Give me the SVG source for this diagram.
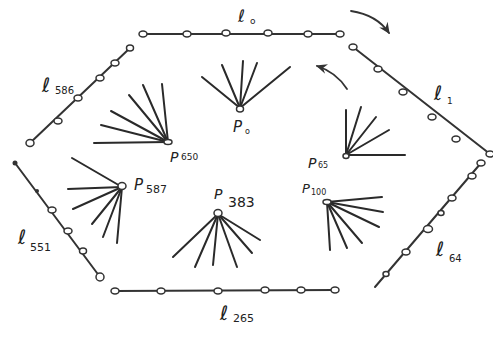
<svg xmlns="http://www.w3.org/2000/svg" width="493" height="338" viewBox="0 0 493 338">
<style>
.seg{stroke:#333;stroke-width:2;fill:none;stroke-linecap:round}
.ray{stroke:#2a2a2a;stroke-width:2;fill:none;stroke-linecap:round}
.pt{fill:#fff;stroke:#333;stroke-width:1.5}
.lbl{font-family:"DejaVu Sans",sans-serif;font-style:italic;fill:#222}
.sub{font-family:"DejaVu Sans",sans-serif;fill:#222}
.arr{stroke:#333;stroke-width:1.8;fill:none;stroke-linecap:round}
</style>
<defs>
<marker id="ah" viewBox="0 0 10 10" refX="8" refY="5" markerWidth="7" markerHeight="7" orient="auto">
<path d="M0,1 L9,5 L0,9 L3,5 Z" fill="#333"/>
</marker>
</defs>
<rect width="493" height="338" fill="#fff"/>

<g id="connectors">
<path class="arr" d="M351,11 Q377,15 389,33" marker-end="url(#ah)"/>
<path class="arr" d="M347,89 Q336,72 317,66" marker-end="url(#ah)"/>
</g>

<g id="l0">
<line class="seg" x1="143" y1="34" x2="340" y2="34"/>
<ellipse class="pt" cx="143" cy="34" rx="4" ry="3"/>
<ellipse class="pt" cx="187" cy="34" rx="4" ry="3"/>
<ellipse class="pt" cx="226" cy="33" rx="4" ry="3"/>
<ellipse class="pt" cx="268" cy="33" rx="4" ry="3"/>
<ellipse class="pt" cx="308" cy="34" rx="4" ry="3"/>
<ellipse class="pt" cx="340" cy="34" rx="4" ry="3"/>
<text class="lbl" x="238" y="22" font-size="17">ℓ</text>
<text class="sub" x="250" y="24" font-size="9">o</text>
</g>

<g id="l1">
<line class="seg" x1="353" y1="47" x2="490" y2="154"/>
<ellipse class="pt" cx="353" cy="47" rx="4" ry="3"/>
<ellipse class="pt" cx="378" cy="69" rx="4" ry="3"/>
<ellipse class="pt" cx="403" cy="92" rx="4" ry="3"/>
<ellipse class="pt" cx="432" cy="117" rx="4" ry="3"/>
<ellipse class="pt" cx="456" cy="139" rx="4" ry="3"/>
<ellipse class="pt" cx="490" cy="154" rx="4" ry="3"/>
<text class="lbl" x="434" y="100" font-size="20">ℓ</text>
<text class="sub" x="447" y="104" font-size="9">1</text>
</g>

<g id="l64">
<line class="seg" x1="481" y1="163" x2="375" y2="287"/>
<ellipse class="pt" cx="481" cy="163" rx="4" ry="3"/>
<ellipse class="pt" cx="472" cy="176" rx="4" ry="3"/>
<ellipse class="pt" cx="452" cy="198" rx="4" ry="3"/>
<ellipse class="pt" cx="441" cy="213" rx="3" ry="2.5"/>
<ellipse class="pt" cx="428" cy="229" rx="4.5" ry="3.5"/>
<ellipse class="pt" cx="406" cy="252" rx="4" ry="3"/>
<ellipse class="pt" cx="386" cy="274" rx="3" ry="2.5"/>
<text class="lbl" x="436" y="256" font-size="20">ℓ</text>
<text class="sub" x="449" y="262" font-size="10">64</text>
</g>

<g id="l265">
<line class="seg" x1="115" y1="291" x2="335" y2="290"/>
<ellipse class="pt" cx="115" cy="291" rx="4" ry="3"/>
<ellipse class="pt" cx="161" cy="291" rx="4" ry="3"/>
<ellipse class="pt" cx="218" cy="291" rx="4" ry="3"/>
<ellipse class="pt" cx="265" cy="290" rx="4" ry="3"/>
<ellipse class="pt" cx="301" cy="290" rx="4" ry="3"/>
<ellipse class="pt" cx="335" cy="290" rx="4" ry="3"/>
<text class="lbl" x="220" y="320" font-size="20">ℓ</text>
<text class="sub" x="233" y="322" font-size="11">265</text>
</g>

<g id="l551">
<line class="seg" x1="15" y1="163" x2="100" y2="277"/>
<circle cx="15" cy="163" r="2.5" fill="#333"/>
<circle cx="37" cy="191" r="2" fill="#333"/>
<ellipse class="pt" cx="52" cy="210" rx="4" ry="3"/>
<ellipse class="pt" cx="68" cy="231" rx="4" ry="3"/>
<ellipse class="pt" cx="83" cy="251" rx="3.5" ry="3"/>
<ellipse class="pt" cx="100" cy="277" rx="4" ry="4"/>
<text class="lbl" x="18" y="244" font-size="20">ℓ</text>
<text class="sub" x="30" y="251" font-size="11">551</text>
</g>

<g id="l586">
<line class="seg" x1="30" y1="143" x2="130" y2="48"/>
<ellipse class="pt" cx="30" cy="143" rx="4" ry="3.5"/>
<ellipse class="pt" cx="58" cy="121" rx="4" ry="3"/>
<ellipse class="pt" cx="78" cy="98" rx="4" ry="3"/>
<ellipse class="pt" cx="100" cy="78" rx="4" ry="3"/>
<ellipse class="pt" cx="115" cy="63" rx="4" ry="3"/>
<ellipse class="pt" cx="130" cy="48" rx="3.5" ry="3"/>
<text class="lbl" x="42" y="92" font-size="20">ℓ</text>
<text class="sub" x="55" y="94" font-size="10">586</text>
</g>

<g id="P0">
<line class="ray" x1="240" y1="108" x2="202" y2="77"/>
<line class="ray" x1="240" y1="108" x2="222" y2="65"/>
<line class="ray" x1="240" y1="108" x2="243" y2="61"/>
<line class="ray" x1="240" y1="108" x2="257" y2="63"/>
<line class="ray" x1="240" y1="108" x2="290" y2="67"/>
<ellipse class="pt" cx="240" cy="109" rx="3.5" ry="3"/>
<text class="lbl" x="233" y="132" font-size="15">P</text>
<text class="sub" x="245" y="134" font-size="8">o</text>
</g>

<g id="P650">
<line class="ray" x1="168" y1="142" x2="94" y2="143"/>
<line class="ray" x1="168" y1="142" x2="101" y2="125"/>
<line class="ray" x1="168" y1="142" x2="111" y2="111"/>
<line class="ray" x1="168" y1="142" x2="129" y2="95"/>
<line class="ray" x1="168" y1="142" x2="143" y2="85"/>
<line class="ray" x1="168" y1="142" x2="162" y2="84"/>
<ellipse class="pt" cx="168" cy="142" rx="4" ry="2.5"/>
<text class="lbl" x="170" y="162" font-size="14">P</text>
<text class="sub" x="181" y="160" font-size="9">650</text>
</g>

<g id="P587">
<line class="ray" x1="122" y1="187" x2="72" y2="158"/>
<line class="ray" x1="122" y1="187" x2="68" y2="189"/>
<line class="ray" x1="122" y1="187" x2="73" y2="209"/>
<line class="ray" x1="122" y1="187" x2="92" y2="224"/>
<line class="ray" x1="122" y1="187" x2="103" y2="237"/>
<line class="ray" x1="122" y1="187" x2="117" y2="243"/>
<ellipse class="pt" cx="122" cy="186" rx="4" ry="3.5"/>
<text class="lbl" x="134" y="190" font-size="15">P</text>
<text class="sub" x="146" y="193" font-size="11">587</text>
</g>

<g id="P383">
<line class="ray" x1="218" y1="214" x2="173" y2="257"/>
<line class="ray" x1="218" y1="214" x2="195" y2="267"/>
<line class="ray" x1="218" y1="214" x2="213" y2="265"/>
<line class="ray" x1="218" y1="214" x2="237" y2="267"/>
<line class="ray" x1="218" y1="214" x2="252" y2="253"/>
<line class="ray" x1="218" y1="214" x2="260" y2="240"/>
<ellipse class="pt" cx="218" cy="213" rx="4" ry="3.5"/>
<text class="lbl" x="214" y="199" font-size="14">P</text>
<text class="sub" x="228" y="207" font-size="14">383</text>
</g>

<g id="P65">
<line class="ray" x1="346" y1="155" x2="346" y2="110"/>
<line class="ray" x1="346" y1="155" x2="361" y2="107"/>
<line class="ray" x1="346" y1="155" x2="376" y2="117"/>
<line class="ray" x1="346" y1="155" x2="389" y2="130"/>
<line class="ray" x1="346" y1="155" x2="405" y2="155"/>
<ellipse class="pt" cx="346" cy="156" rx="3" ry="2.5"/>
<text class="lbl" x="308" y="168" font-size="14">P</text>
<text class="sub" x="318" y="168" font-size="8">65</text>
</g>

<g id="P100">
<line class="ray" x1="327" y1="202" x2="382" y2="197"/>
<line class="ray" x1="327" y1="202" x2="383" y2="212"/>
<line class="ray" x1="327" y1="202" x2="379" y2="227"/>
<line class="ray" x1="327" y1="202" x2="362" y2="243"/>
<line class="ray" x1="327" y1="202" x2="347" y2="248"/>
<line class="ray" x1="327" y1="202" x2="330" y2="250"/>
<ellipse class="pt" cx="327" cy="202" rx="4" ry="2.5"/>
<text class="lbl" x="302" y="193" font-size="13">P</text>
<text class="sub" x="311" y="195" font-size="8">100</text>
</g>
</svg>
